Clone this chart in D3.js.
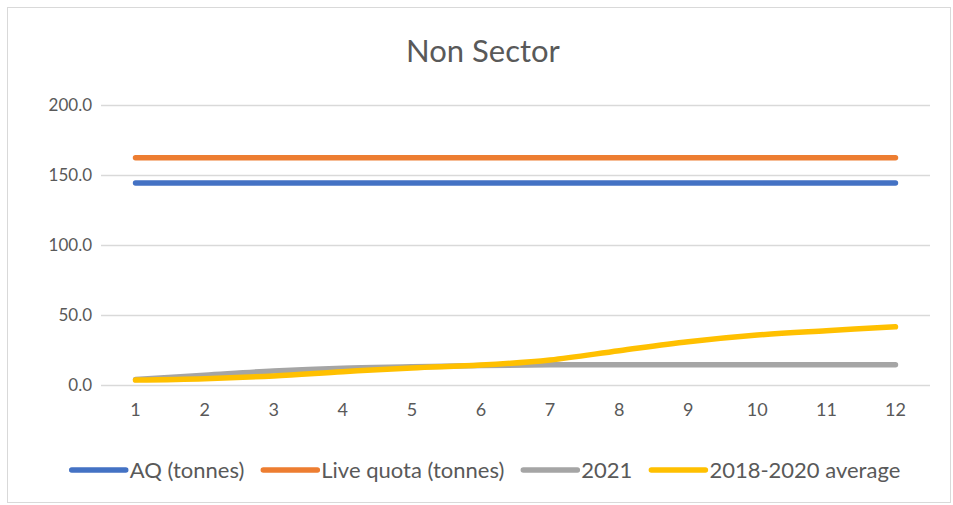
<!DOCTYPE html>
<html>
<head>
<meta charset="utf-8">
<script src="https://cdn.jsdelivr.net/npm/d3@7"></script>
<style>
  body { margin: 0; background: #fff; }
  text { font-family: Lato, "Liberation Sans", sans-serif; fill: #595959; }
</style>
</head>
<body>
<div id="chart"></div>
<script>
// data
const months = [1, 2, 3, 4, 5, 6, 7, 8, 9, 10, 11, 12];
const aq = [144.3, 144.3, 144.3, 144.3, 144.3, 144.3, 144.3, 144.3, 144.3, 144.3, 144.3, 144.3];
const liveQuota = [162.3, 162.3, 162.3, 162.3, 162.3, 162.3, 162.3, 162.3, 162.3, 162.3, 162.3, 162.3];
const y2021 = [4.0, 7.0, 10.0, 12.0, 13.0, 14.0, 14.4, 14.4, 14.4, 14.4, 14.4, 14.4];
const avg1820 = [3.5, 4.5, 6.5, 9.5, 12.2, 14.2, 17.9, 24.5, 30.9, 35.7, 38.8, 41.6];
const yTicks = [0, 50, 100, 150, 200];

const seriesList = [
  { name: "AQ (tonnes)", values: aq, color: "#4472c4" },
  { name: "Live quota (tonnes)", values: liveQuota, color: "#ed7d31" },
  { name: "2021", values: y2021, color: "#a5a5a5" },
  { name: "2018-2020 average", values: avg1820, color: "#ffc000" }
];

const width = 953, height = 505;
const margin = { top: 105, right: 23, bottom: 120, left: 101 };

const svg = d3.select("#chart").append("svg")
  .attr("width", width)
  .attr("height", height);

// chart border
svg.append("rect")
  .attr("x", 7.5).attr("y", 7.5)
  .attr("width", 943).attr("height", 495)
  .attr("fill", "none")
  .attr("stroke", "#d9d9d9");

// title
svg.append("text")
  .attr("x", 483).attr("y", 62)
  .attr("text-anchor", "middle")
  .style("font-size", "31px")
  .text("Non Sector");

const x = d3.scaleBand()
  .domain(months)
  .range([margin.left, width - margin.right]);

const y = d3.scaleLinear()
  .domain([0, 200])
  .range([height - margin.bottom, margin.top]);

// gridlines
svg.append("g")
  .selectAll("line")
  .data(yTicks)
  .enter()
  .append("line")
  .attr("x1", margin.left)
  .attr("x2", width - margin.right)
  .attr("y1", d => y(d) + 0.5)
  .attr("y2", d => y(d) + 0.5)
  .attr("stroke", "#d9d9d9")
  .attr("stroke-width", 1.3);

// y axis labels
const yAxis = d3.axisLeft(y).tickValues(yTicks).tickFormat(d3.format(".1f")).tickSize(0).tickPadding(9);
svg.append("g")
  .attr("transform", `translate(${margin.left},0)`)
  .call(yAxis)
  .call(g => g.select(".domain").remove())
  .selectAll("text")
  .style("font-size", "17px")
  .attr("fill", "#595959");

// x axis labels
const xAxis = d3.axisBottom(x).tickSize(0).tickPadding(18);
svg.append("g")
  .attr("transform", `translate(0,${height - margin.bottom})`)
  .call(xAxis)
  .call(g => g.select(".domain").remove())
  .selectAll("text")
  .style("font-size", "18px")
  .attr("fill", "#595959");

// lines
const line = d3.line()
  .x((d, i) => x(months[i]) + x.bandwidth() / 2)
  .y(d => y(d))
  .curve(d3.curveCatmullRom);

svg.append("g")
  .selectAll("path")
  .data(seriesList)
  .enter()
  .append("path")
  .attr("d", d => line(d.values))
  .attr("fill", "none")
  .attr("stroke", d => d.color)
  .attr("stroke-width", 5.5)
  .attr("stroke-linecap", "round")
  .attr("stroke-linejoin", "round");

// legend
const legend = svg.append("g").attr("transform", "translate(0,470)");
const items = legend.selectAll("g")
  .data(seriesList)
  .enter()
  .append("g");

items.append("line")
  .attr("x1", 0).attr("x2", 54)
  .attr("stroke", d => d.color)
  .attr("stroke-width", 5.5)
  .attr("stroke-linecap", "round");

items.append("text")
  .attr("x", 58)
  .attr("y", 7.5)
  .style("font-size", "22px")
  .text(d => d.name);

// place legend items side by side, centred
const gap = 19;
let pos = 0;
const offsets = [];
items.each(function() {
  offsets.push(pos);
  const w = d3.select(this).select("text").node().getComputedTextLength();
  pos += 58 + w + gap;
});
const total = pos - gap;
const start = 486 - total / 2;
items.attr("transform", (d, i) => `translate(${start + offsets[i]},0)`);
</script>
</body>
</html>
